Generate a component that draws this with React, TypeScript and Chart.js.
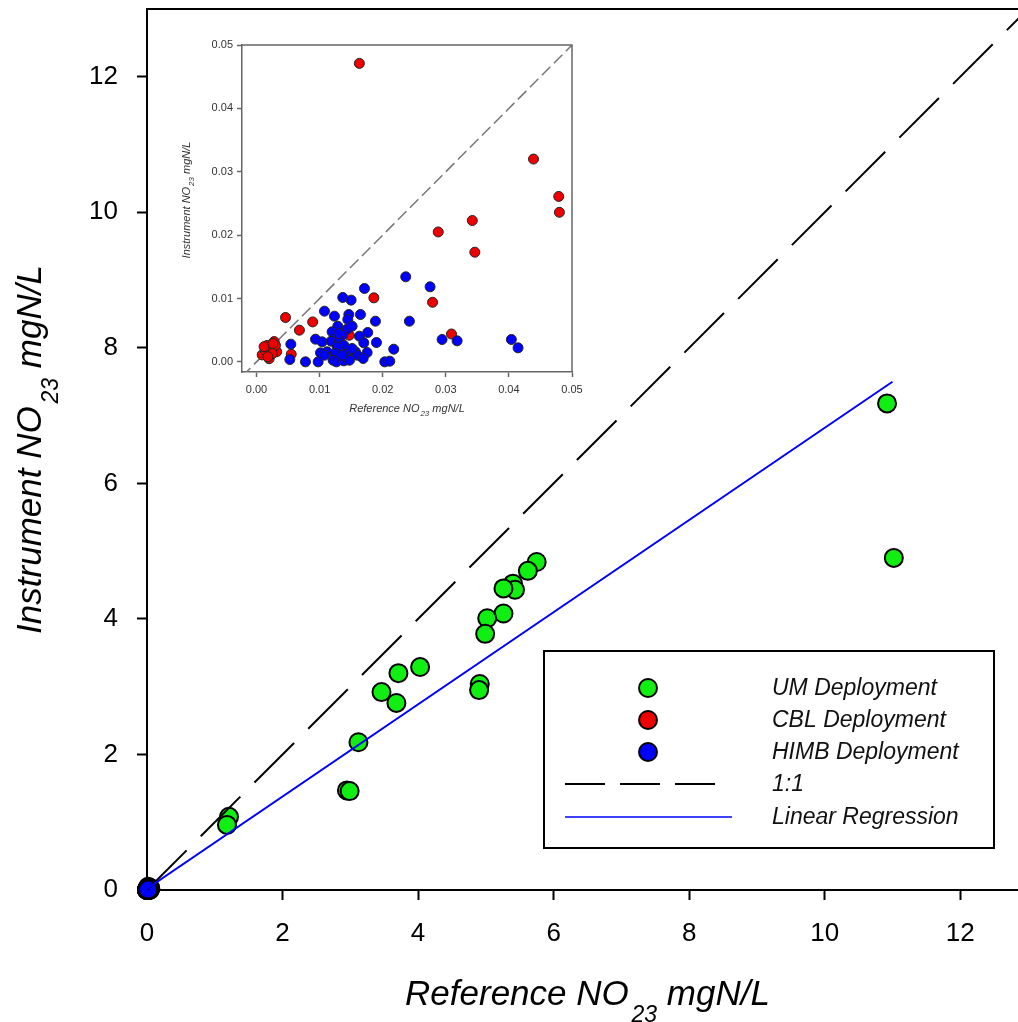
import React, { useEffect, useRef } from "react";
import { Chart, registerables } from "chart.js";
Chart.register(...registerables);

const FONT = "'Liberation Sans', Arial, Helvetica, sans-serif";

// ---- Main chart data (mgN/L) ----
const umX = [10.92, 11.02, 5.75, 5.62, 5.40, 5.43, 5.26, 5.26, 5.02, 4.99, 4.91, 4.90, 4.03, 3.71, 3.46, 3.68, 3.12, 2.95, 2.99, 1.21, 1.18];
const umY = [7.18, 4.90, 4.84, 4.71, 4.52, 4.43, 4.45, 4.08, 4.01, 3.78, 3.04, 2.95, 3.29, 3.20, 2.92, 2.76, 2.18, 1.47, 1.46, 1.08, 0.96];

// ---- CBL / HIMB data (mgN/L, shown in inset; near the origin in main) ----
const cblX = [0.0163, 0.0439, 0.0479, 0.0480, 0.0342, 0.0288, 0.0346, 0.0186, 0.0279, 0.0309, 0.0046, 0.0089, 0.0068, 0.0055, 0.0147, 0.0149, 0.0017, 0.0028, 0.0032, 0.0009, 0.0021, 0.0014, 0.0022, 0.0012, 0.0020, 0.0030, 0.0025, 0.0018, 0.0026];
const cblY = [0.0471, 0.0320, 0.0261, 0.0236, 0.0223, 0.0205, 0.0173, 0.0101, 0.0094, 0.0044, 0.0070, 0.0063, 0.0050, 0.0012, 0.0042, 0.0016, 0.0026, 0.0032, 0.0016, 0.0011, 0.0011, 0.0018, 0.0021, 0.0024, 0.0005, 0.0026, 0.0013, 0.0008, 0.0029];
const himbX = [0.02365, 0.02751, 0.01711, 0.01367, 0.01499, 0.01077, 0.01235, 0.01463, 0.01647, 0.01447, 0.02423, 0.01885, 0.01288, 0.01198, 0.01436, 0.01763, 0.01631, 0.01362, 0.01251, 0.00935, 0.01040, 0.01183, 0.01315, 0.01383, 0.01278, 0.01700, 0.01901, 0.00544, 0.02941, 0.03179, 0.04039, 0.04145, 0.02175, 0.01014, 0.01119, 0.01251, 0.01410, 0.01568, 0.01595, 0.01753, 0.01690, 0.00528, 0.00776, 0.00977, 0.01214, 0.01267, 0.01383, 0.01473, 0.01077, 0.02033, 0.02112, 0.01357, 0.01515, 0.01304, 0.01515];
const himbY = [0.01342, 0.01184, 0.01158, 0.01016, 0.00974, 0.00800, 0.00721, 0.00747, 0.00747, 0.00668, 0.00642, 0.00642, 0.00563, 0.00474, 0.00516, 0.00463, 0.00405, 0.00421, 0.00368, 0.00358, 0.00316, 0.00326, 0.00316, 0.00263, 0.00237, 0.00300, 0.00305, 0.00279, 0.00353, 0.00332, 0.00353, 0.00221, 0.00200, 0.00142, 0.00158, 0.00132, 0.00121, 0.00158, 0.00105, 0.00147, 0.00053, 0.00037, 0.00000, 0.00000, 0.00026, 0.00000, 0.00016, 0.00026, 0.00105, 0.00000, 0.00011, 0.00105, 0.00211, 0.00447, 0.00563];

// ---- Lines ----
const oneToOne = [0, 13];
const regX = [0, 11];
const regY = [0.02, 7.5];
const insetOneToOne = [-0.0023, 0.05];

// ---- Ticks / labels ----
const mainTicks = [0, 2, 4, 6, 8, 10, 12];
const insetTicks = [0, 0.01, 0.02, 0.03, 0.04, 0.05];
const legendLabels = ["UM Deployment", "CBL Deployment", "HIMB Deployment", "1:1", "Linear Regression"];

const GREEN = "#11ee11";
const RED = "#ee0000";
const BLUE = "#0000ff";

const pts = (xs: number[], ys: number[]) => xs.map((x, i) => ({ x, y: ys[i] }));

function drawSubTitle(ctx: CanvasRenderingContext2D, pre: string, sub: string, post: string, size: number, subSize: number, subShift: number, cx: number, baseY: number) {
  ctx.font = `italic ${size}px ${FONT}`;
  const w1 = ctx.measureText(pre).width;
  const w3 = ctx.measureText(post).width;
  ctx.font = `italic ${subSize}px ${FONT}`;
  const w2 = ctx.measureText(sub).width;
  const gap = size * 0.08;
  const total = w1 + gap + w2 + w3;
  let x = cx - total / 2;
  ctx.textAlign = "left";
  ctx.textBaseline = "alphabetic";
  ctx.font = `italic ${size}px ${FONT}`;
  ctx.fillText(pre, x, baseY);
  x += w1 + gap;
  ctx.font = `italic ${subSize}px ${FONT}`;
  ctx.fillText(sub, x, baseY + subShift);
  x += w2;
  ctx.font = `italic ${size}px ${FONT}`;
  ctx.fillText(post, x, baseY);
}

export default function App() {
  const mainRef = useRef<HTMLCanvasElement>(null);
  const insetRef = useRef<HTMLCanvasElement>(null);

  useEffect(() => {
    const mainPlugin = {
      id: "mainDecor",
      afterDraw(chart: any) {
        const { ctx, chartArea } = chart;
        ctx.save();
        // top / right frame
        ctx.strokeStyle = "#000";
        ctx.lineWidth = 2;
        ctx.beginPath();
        ctx.moveTo(chartArea.left - 1, chartArea.top);
        ctx.lineTo(chartArea.right, chartArea.top);
        ctx.lineTo(chartArea.right, chartArea.bottom);
        ctx.stroke();
        // titles
        ctx.fillStyle = "#000";
        const cx = (chartArea.left + chartArea.right) / 2;
        drawSubTitle(ctx, "Reference NO", "23", " mgN/L", 35, 23, 17, cx, 1005);
        ctx.save();
        ctx.translate(41, (chartArea.top + chartArea.bottom) / 2);
        ctx.rotate(-Math.PI / 2);
        drawSubTitle(ctx, "Instrument NO", "23", " mgN/L", 35, 23, 17, 0, 0);
        ctx.restore();
        // legend
        ctx.lineWidth = 2;
        ctx.strokeStyle = "#000";
        ctx.strokeRect(544, 651, 450, 197);
        const rows = [688, 720, 752, 784, 817];
        const fills = [GREEN, RED, BLUE];
        for (let i = 0; i < 3; i++) {
          ctx.beginPath();
          ctx.arc(648, rows[i], 9, 0, Math.PI * 2);
          ctx.fillStyle = fills[i];
          ctx.fill();
          ctx.lineWidth = 2;
          ctx.strokeStyle = "#000";
          ctx.stroke();
        }
        ctx.beginPath();
        ctx.setLineDash([40, 15]);
        ctx.lineWidth = 2;
        ctx.strokeStyle = "#000";
        ctx.moveTo(565, rows[3]);
        ctx.lineTo(716, rows[3]);
        ctx.stroke();
        ctx.setLineDash([]);
        ctx.beginPath();
        ctx.strokeStyle = BLUE;
        ctx.lineWidth = 1.5;
        ctx.moveTo(565, rows[4]);
        ctx.lineTo(732, rows[4]);
        ctx.stroke();
        ctx.fillStyle = "#111";
        ctx.font = `italic 23px ${FONT}`;
        ctx.textAlign = "left";
        ctx.textBaseline = "middle";
        legendLabels.forEach((t, i) => ctx.fillText(t, 772, rows[i] + 1));
        ctx.restore();
      },
    };

    const main = new Chart(mainRef.current!, {
      type: "scatter",
      data: {
        datasets: [
          { type: "line", data: pts(regX, regY), borderColor: BLUE, borderWidth: 2, pointRadius: 0, order: 0, fill: false } as any,
          { type: "line", data: pts(oneToOne, oneToOne), borderColor: "#000", borderWidth: 2, borderDash: [56, 20], pointRadius: 0, order: 1, fill: false } as any,
          { data: pts(himbX, himbY), backgroundColor: BLUE, borderColor: "#000", borderWidth: 2, pointRadius: 9, order: 2, clip: false } as any,
          { data: pts(cblX, cblY), backgroundColor: RED, borderColor: "#000", borderWidth: 2, pointRadius: 9, order: 3, clip: false } as any,
          { data: pts(umX, umY), backgroundColor: GREEN, borderColor: "#000", borderWidth: 2, pointRadius: 9, order: 4, clip: false } as any,
        ],
      },
      options: {
        animation: false,
        responsive: false,
        devicePixelRatio: 1,
        layout: { autoPadding: false, padding: { left: 0, top: 9, right: 12, bottom: 0 } },
        plugins: { legend: { display: false }, tooltip: { enabled: false } },
        scales: {
          x: {
            type: "linear",
            min: 0,
            max: 13,
            afterBuildTicks: (s: any) => { s.ticks = mainTicks.map((v) => ({ value: v })); },
            afterFit: (s: any) => { s.height = 132; s.paddingLeft = 0; s.paddingRight = 0; },
            grid: { display: true, drawOnChartArea: false, drawTicks: true, tickLength: 10, tickColor: "#000", tickWidth: 2 },
            border: { display: true, color: "#000", width: 2 },
            ticks: { font: { size: 26, family: FONT }, color: "#000", padding: 18, maxRotation: 0, autoSkip: false },
          },
          y: {
            type: "linear",
            min: 0,
            max: 13,
            afterBuildTicks: (s: any) => { s.ticks = mainTicks.map((v) => ({ value: v })); },
            afterFit: (s: any) => { s.width = 147; s.paddingTop = 0; s.paddingBottom = 0; },
            grid: { display: true, drawOnChartArea: false, drawTicks: true, tickLength: 10, tickColor: "#000", tickWidth: 2 },
            border: { display: true, color: "#000", width: 2 },
            ticks: { font: { size: 26, family: FONT }, color: "#000", padding: 19, autoSkip: false },
          },
        },
      } as any,
      plugins: [mainPlugin],
    });

    const insetPlugin = {
      id: "insetDecor",
      afterDraw(chart: any) {
        const { ctx, chartArea } = chart;
        ctx.save();
        ctx.strokeStyle = "#666";
        ctx.lineWidth = 1.5;
        ctx.beginPath();
        ctx.moveTo(chartArea.left, chartArea.top);
        ctx.lineTo(chartArea.right, chartArea.top);
        ctx.lineTo(chartArea.right, chartArea.bottom);
        ctx.stroke();
        ctx.fillStyle = "#333";
        const cx = (chartArea.left + chartArea.right) / 2;
        drawSubTitle(ctx, "Reference NO", "23", " mgN/L", 11, 8, 4, cx, 382);
        ctx.save();
        ctx.translate(20, 170);
        ctx.rotate(-Math.PI / 2);
        drawSubTitle(ctx, "Instrument NO", "23", " mgN/L", 11, 8, 4, 0, 0);
        ctx.restore();
        ctx.restore();
      },
    };

    const inset = new Chart(insetRef.current!, {
      type: "scatter",
      data: {
        datasets: [
          { data: pts(himbX, himbY), backgroundColor: BLUE, borderColor: "#222", borderWidth: 1, pointRadius: 5, order: 0 } as any,
          { data: pts(cblX, cblY), backgroundColor: RED, borderColor: "#222", borderWidth: 1, pointRadius: 5, order: 1 } as any,
          { type: "line", data: pts(insetOneToOne, insetOneToOne), borderColor: "#777", borderWidth: 1.5, borderDash: [12, 5], pointRadius: 0, order: 2, fill: false } as any,
        ],
      },
      options: {
        animation: false,
        responsive: false,
        devicePixelRatio: 1,
        layout: { autoPadding: false, padding: { left: 0, top: 15, right: 18, bottom: 0 } },
        plugins: { legend: { display: false }, tooltip: { enabled: false } },
        scales: {
          x: {
            type: "linear",
            min: -0.0023,
            max: 0.05,
            afterBuildTicks: (s: any) => { s.ticks = insetTicks.map((v) => ({ value: v })); },
            afterFit: (s: any) => { s.height = 53; s.paddingLeft = 0; s.paddingRight = 0; },
            grid: { display: true, drawOnChartArea: false, drawTicks: true, tickLength: 5, tickColor: "#666", tickWidth: 1.5 },
            border: { display: true, color: "#666", width: 1.5 },
            ticks: { font: { size: 11, family: FONT }, color: "#333", padding: 6, maxRotation: 0, autoSkip: false, callback: (v: any) => Number(v).toFixed(2) },
          },
          y: {
            type: "linear",
            min: -0.0016,
            max: 0.05,
            afterBuildTicks: (s: any) => { s.ticks = insetTicks.map((v) => ({ value: v })); },
            afterFit: (s: any) => { s.width = 72; s.paddingTop = 0; s.paddingBottom = 0; },
            grid: { display: true, drawOnChartArea: false, drawTicks: true, tickLength: 5, tickColor: "#666", tickWidth: 1.5 },
            border: { display: true, color: "#666", width: 1.5 },
            ticks: { font: { size: 11, family: FONT }, color: "#333", padding: 4, autoSkip: false, callback: (v: any) => Number(v).toFixed(2) },
          },
        },
      } as any,
      plugins: [insetPlugin],
    });

    return () => {
      main.destroy();
      inset.destroy();
    };
  }, []);

  return (
    <div style={{ position: "absolute", left: 0, top: 0, width: 1018, height: 1022, overflow: "hidden", background: "#fff" }}>
      <canvas ref={mainRef} width={1040} height={1022} style={{ position: "absolute", left: 0, top: 0, width: 1040, height: 1022 }} />
      <canvas ref={insetRef} width={420} height={395} style={{ position: "absolute", left: 170, top: 30, width: 420, height: 395 }} />
    </div>
  );
}
